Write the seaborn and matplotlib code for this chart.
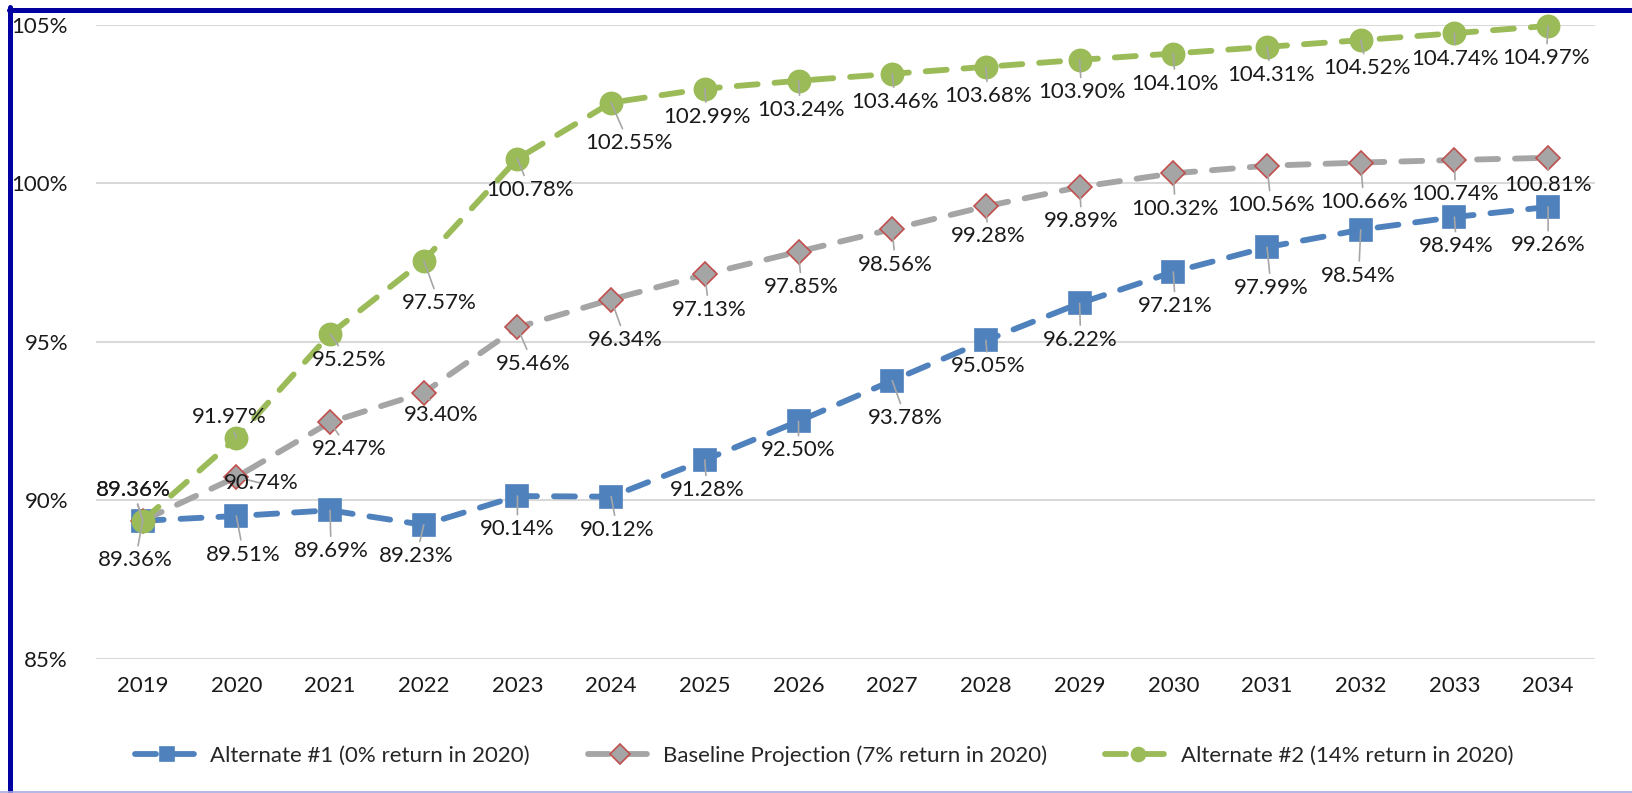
import matplotlib
matplotlib.use("Agg")
import matplotlib.pyplot as plt
import seaborn as sns
from matplotlib.lines import Line2D
from matplotlib.ticker import FuncFormatter

years = list(range(2019, 2035))

alt1 = [89.36, 89.51, 89.69, 89.23, 90.14, 90.12, 91.28, 92.50,
        93.78, 95.05, 96.22, 97.21, 97.99, 98.54, 98.94, 99.26]
baseline = [89.36, 90.74, 92.47, 93.40, 95.46, 96.34, 97.13, 97.85,
            98.56, 99.28, 99.89, 100.32, 100.56, 100.66, 100.74, 100.81]
alt2 = [89.36, 91.97, 95.25, 97.57, 100.78, 102.55, 102.99, 103.24,
        103.46, 103.68, 103.90, 104.10, 104.31, 104.52, 104.74, 104.97]

series_names = ["Alternate #1 (0% return in 2020)",
                "Baseline Projection (7% return in 2020)",
                "Alternate #2 (14% return in 2020)"]

# label offsets (px), y down
off_alt1 = [(-7, 38), (7, 37), (1, 39), (-7, 30), (0, 32), (6, 32), (2, 29), (0, 28),
            (13, 36), (2, 25), (1, 35), (2, 33), (4, 39), (-2, 44), (2, 28), (0, 37)]
off_base = [(-9, -30), (24, 6), (18, 26), (17, 21), (15, 35), (14, 39), (4, 34), (3, 34),
            (3, 34), (2, 29), (2, 33), (2, 34), (4, 38), (3, 38), (1, 33), (0, 26)]
off_alt2 = [(-9, -30), (-7, -20), (18, 25), (15, 41), (12, 30), (17, 39), (2, 27), (2, 28),
            (3, 27), (2, 28), (2, 31), (2, 29), (4, 27), (6, 27), (1, 25), (-2, 31)]

sns.set_style("white")
plt.rcParams['font.family'] = ['Lato', 'DejaVu Sans']

fig = plt.figure(figsize=(16.32, 7.93), dpi=100)
ax = fig.add_axes([0.0587, 0.169, 0.9186, 0.7995])

styles = [
    dict(color="#4F81BD", marker="s", markersize=15.5, mfc="#4F81BD", mec="#4F81BD"),
    dict(color="#A5A5A5", marker="D", markersize=12, mfc="#A5A5A5", mec="#C0504D"),
    dict(color="#9BBB59", marker="o", markersize=16, mfc="#9BBB59", mec="#9BBB59"),
]
data = [alt1, baseline, alt2]
offsets = [off_alt1, off_base, off_alt2]

for vals, name, st in zip(data, series_names, styles):
    sns.lineplot(x=years, y=vals, ax=ax, label=name, color=st["color"],
                 marker=st["marker"], markersize=st["markersize"],
                 markerfacecolor=st["mfc"], markeredgecolor=st["mec"],
                 markeredgewidth=1.2, linewidth=4.2,
                 linestyle=(0, (3.6, 2.9)), dash_capstyle="round",
                 clip_on=False, zorder=3)

k = 1.0408 / 1.389
for vals, offs in zip(data, offsets):
    for yr, v, (dx, dy) in zip(years, vals, offs):
        ax.annotate(f"{v:.2f}%", xy=(yr, v), xytext=(dx * k, -dy * k),
                    textcoords="offset points", ha="center", va="center",
                    fontsize=16, color="#1a1a1a", zorder=5,
                    arrowprops=dict(arrowstyle="-", color="#A6A6A6", lw=1.2,
                                    shrinkA=1, shrinkB=0))

ax.set_xlim(2018.5, 2034.5)
ax.set_ylim(85, 105)
ax.set_xticks(years)
ax.set_yticks([85, 90, 95, 100, 105])
ax.yaxis.set_major_formatter(FuncFormatter(lambda v, p: f"{v:.0f}%"))
ax.tick_params(axis="both", length=0, labelsize=16, labelcolor="#1a1a1a")
ax.tick_params(axis="x", pad=12)
ax.tick_params(axis="y", pad=20)
ax.grid(axis="y", color="#D9D9D9", linewidth=1.5)
ax.set_axisbelow(True)
for s in ax.spines.values():
    s.set_visible(False)
ax.set_xlabel("")
ax.set_ylabel("")

handles, labels = ax.get_legend_handles_labels()
leg = ax.legend(handles, labels, loc="center", bbox_to_anchor=(0.505, 0.047),
                bbox_transform=fig.transFigure, ncol=3, frameon=False,
                fontsize=16, handlelength=2.9, columnspacing=2.6, handletextpad=0.5)
for h in leg.legend_handles:
    h.set_markersize(10)

# frame lines around the chart
W, H = 1632, 793
fig.add_artist(Line2D([10 / W, 10 / W], [0, 1 - 7 / H], color="#0000A0", lw=3.6))
fig.add_artist(Line2D([8.5 / W, 1], [1 - 9.5 / H, 1 - 9.5 / H], color="#0000A0", lw=3.6))
fig.add_artist(Line2D([0, 1], [0.8 / H, 0.8 / H], color="#A9A9E0", lw=1.2))

fig.savefig("out.png", dpi=100)
